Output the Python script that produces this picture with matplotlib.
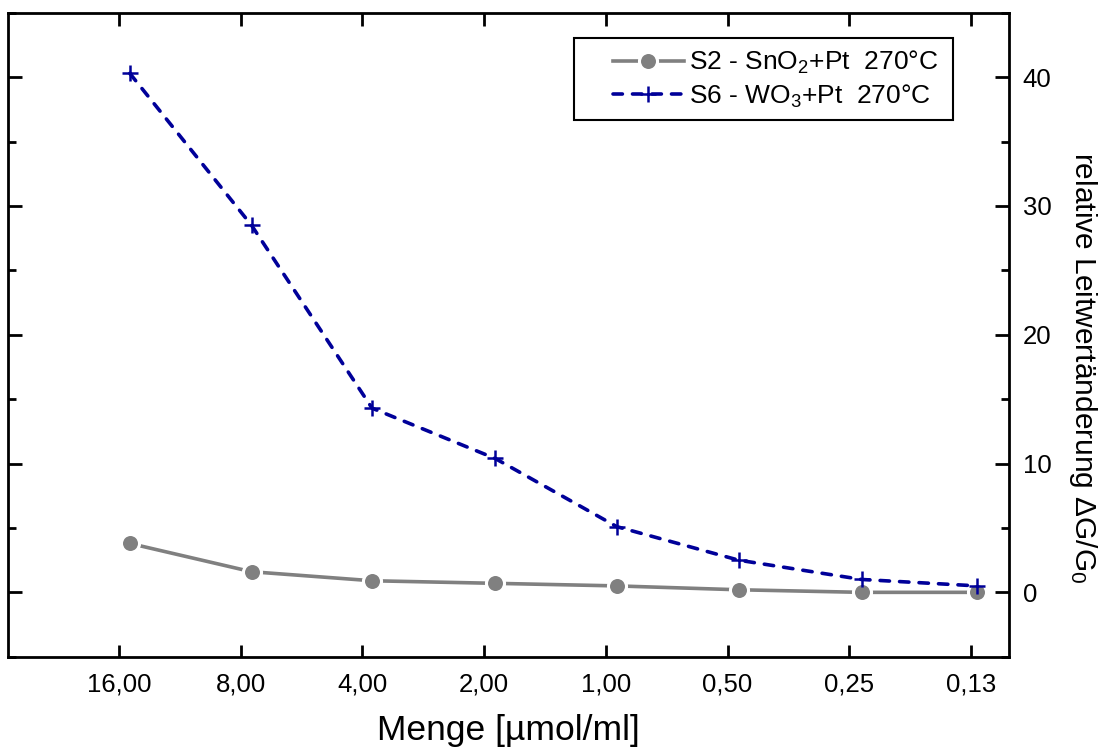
import matplotlib
matplotlib.use('Agg')
import numpy as np
import matplotlib.pyplot as plt
from matplotlib.patches import Rectangle
from matplotlib.ticker import MultipleLocator

plt.rcParams['font.family'] = ['Liberation Sans', 'DejaVu Sans']
plt.rcParams['mathtext.fontset'] = 'custom'
plt.rcParams['mathtext.rm'] = 'Liberation Sans'
plt.rcParams['mathtext.it'] = 'Liberation Sans'
plt.rcParams['mathtext.default'] = 'regular'

# categories (concentration) and measured points
categories = ['16,00', '8,00', '4,00', '2,00', '1,00', '0,50', '0,25', '0,13']
# data points sit slightly right of the category ticks in the original
x_pos = [0.09, 1.09, 2.08, 3.09, 4.09, 5.09, 6.10, 7.05]
sno2 = [3.8, 1.6, 0.9, 0.7, 0.5, 0.2, 0.0, 0.0]
wo3 = [40.3, 28.5, 14.3, 10.4, 5.1, 2.5, 1.0, 0.5]

fig = plt.figure(figsize=(10.99, 7.54), dpi=100)
ax = fig.add_axes([0.0073, 0.129, 0.9107, 0.854])

ax.plot(x_pos, sno2, color='#808080', lw=2.6, marker='o', ms=13,
        mfc='#808080', mec='white', mew=2.2,
        label='S2 - SnO$_2$+Pt  270°C', zorder=3)
ax.plot(x_pos, wo3, color='#000099', lw=2.6, ls=(0, (2.6, 2.8)),
        dash_capstyle='round', marker='+', ms=12, mew=1.8,
        label='S6 - WO$_3$+Pt  270°C', zorder=4)

ax.set_xlim(-0.91, 7.31)
ax.set_ylim(-5, 45)

# bottom axis with category labels
ax.set_xticks(np.arange(len(categories)))
ax.set_xticklabels(categories)
ax.tick_params(axis='x', which='major', direction='in', length=9, width=2,
               labelsize=18.5, pad=11, top=True)
ax.set_xlabel('Menge [µmol/ml]', fontsize=25.5, labelpad=13)

# values on the right axis
ax.yaxis.tick_right()
ax.yaxis.set_label_position('right')
ax.yaxis.set_major_locator(MultipleLocator(10))
ax.yaxis.set_minor_locator(MultipleLocator(5))
ax.tick_params(axis='y', which='major', direction='in', length=10, width=2,
               labelsize=18.5, pad=10, left=True)
ax.tick_params(axis='y', which='minor', direction='in', length=6, width=2,
               left=True)
ax.set_ylabel('relative Leitwertänderung $\\Delta$G/G$_0$', fontsize=21.5,
              rotation=270, va='center', ha='center')
ax.yaxis.set_label_coords(1.074, 0.448)

for s in ax.spines.values():
    s.set_linewidth(2)

# legend entries without frame, the box is drawn separately (wide left margin)
leg = ax.legend(loc='upper left', bbox_to_anchor=(0.604, 0.944),
                borderaxespad=0, fontsize=19, frameon=False,
                handlelength=2.7, handletextpad=0.2, borderpad=0,
                labelspacing=0.25)
ax.add_patch(Rectangle((0.565, 0.833), 0.379, 0.128, transform=ax.transAxes,
                       fill=False, edgecolor='black', lw=1.5, zorder=5))

fig.savefig('out.png', dpi=100)
